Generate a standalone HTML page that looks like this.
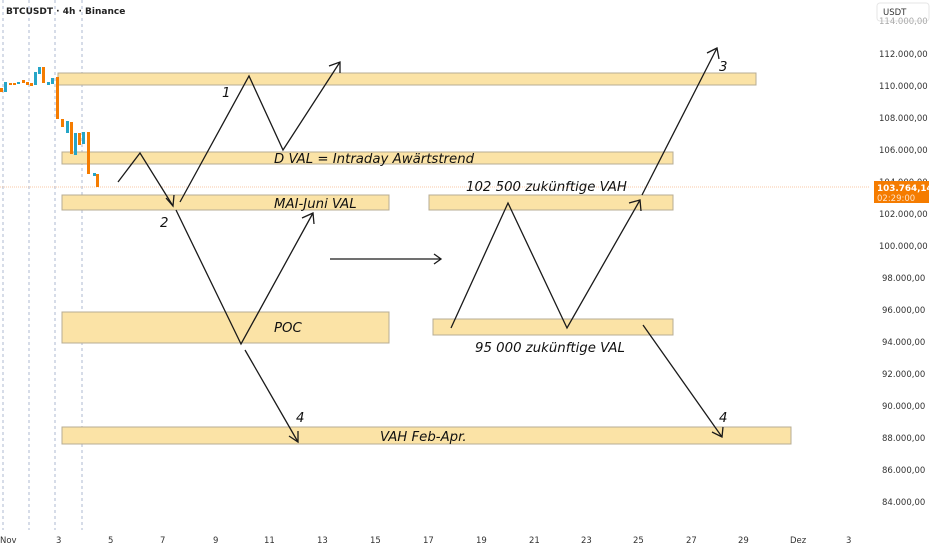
<!DOCTYPE html>
<html><head><meta charset="utf-8"><style>
html,body{margin:0;padding:0;background:#fff;}
svg{display:block;font-family:"DejaVu Sans","Liberation Sans",sans-serif;}
.ax{font-size:8.5px;fill:#333;}
.lb{font-size:13.3px;font-style:italic;fill:#111;}
.bx{fill:#fbe3a6;stroke:#b7ad94;stroke-width:1;}
</style></head><body>
<svg width="932" height="550" viewBox="0 0 932 550">
<rect width="932" height="550" fill="#fff"/>
<g stroke="#9aa7c6" stroke-width="0.8" stroke-dasharray="3,3">
<line x1="3" y1="0" x2="3" y2="530"/><line x1="29" y1="0" x2="29" y2="530"/>
<line x1="55" y1="0" x2="55" y2="530"/><line x1="82" y1="0" x2="82" y2="530"/>
</g>
<line x1="0" y1="187" x2="870" y2="187" stroke="#f7b98a" stroke-width="0.8" stroke-dasharray="1,1"/>
<rect class="bx" x="58" y="73" width="698" height="12"/>
<rect class="bx" x="62" y="152" width="611" height="12"/>
<rect class="bx" x="62" y="195" width="327" height="15"/>
<rect class="bx" x="429" y="195" width="244" height="15"/>
<rect class="bx" x="62" y="312" width="327" height="31"/>
<rect class="bx" x="433" y="319" width="240" height="16"/>
<rect class="bx" x="62" y="427" width="729" height="17"/>
<g stroke-width="1">
<rect x="0" y="88" width="3" height="4" fill="#f57c00"/>
<rect x="4" y="82" width="3" height="10" fill="#26a5c7"/>
<rect x="9" y="83" width="3" height="2" fill="#f57c00"/>
<rect x="13" y="83" width="3" height="2" fill="#f57c00"/>
<rect x="17" y="82" width="3" height="2" fill="#26a5c7"/>
<rect x="22" y="80" width="3" height="3" fill="#f57c00"/>
<rect x="26" y="82" width="3" height="3" fill="#f57c00"/>
<rect x="30" y="83" width="3" height="3" fill="#f57c00"/>
<rect x="34" y="72" width="3" height="13" fill="#26a5c7"/>
<rect x="38" y="67" width="3" height="7" fill="#26a5c7"/>
<rect x="42" y="67" width="3" height="16" fill="#f57c00"/>
<rect x="47" y="82" width="3" height="3" fill="#26a5c7"/>
<rect x="51" y="78" width="3" height="6" fill="#26a5c7"/>
<rect x="56" y="77" width="3" height="42" fill="#f57c00"/>
<rect x="61" y="119" width="3" height="8" fill="#f57c00"/>
<rect x="66" y="121" width="3" height="12" fill="#26a5c7"/>
<rect x="70" y="122" width="3" height="32" fill="#f57c00"/>
<rect x="74" y="133" width="3" height="22" fill="#26a5c7"/>
<rect x="78" y="133" width="3" height="12" fill="#f57c00"/>
<rect x="82" y="132" width="3" height="12" fill="#26a5c7"/>
<rect x="87" y="132" width="3" height="42" fill="#f57c00"/>
<rect x="93" y="173" width="3" height="3" fill="#26a5c7"/>
<rect x="96" y="174" width="3" height="13" fill="#f57c00"/>
</g>
<g fill="none" stroke="#1a1a1a" stroke-width="1.3" stroke-linejoin="miter">
<polyline points="118,182 140,153 173,206"/>
<polyline points="166,198 173,206 174,195"/>
<polyline points="180,202 249,76 283,150 340,62"/>
<polyline points="329,66 340,62 340,73"/>
<polyline points="176,210 241,344 313,213"/>
<polyline points="302,218 313,213 314,224"/>
<polyline points="245,350 298,442"/>
<polyline points="289,436 298,442 298,431"/>
<line x1="330" y1="259" x2="441" y2="259"/>
<polyline points="434,254 441,259 434,264"/>
<polyline points="451,328 508,203 567,328 640,200"/>
<polyline points="629,203 640,200 641,211"/>
<polyline points="642,195 717,48"/>
<polyline points="707,53 717,48 719,59"/>
<polyline points="643,325 722,437"/>
<polyline points="712,432 722,437 723,427"/>
</g>
<text class="lb" x="222" y="97">1</text>
<text class="lb" x="160" y="227">2</text>
<text class="lb" x="719" y="71">3</text>
<text class="lb" x="296" y="422">4</text>
<text class="lb" x="719" y="422">4</text>
<text class="lb" x="274" y="163">D VAL = Intraday Awärtstrend</text>
<text class="lb" x="274" y="208">MAI-Juni VAL</text>
<text class="lb" x="466" y="191">102 500 zukünftige VAH</text>
<text class="lb" x="274" y="332">POC</text>
<text class="lb" x="475" y="352">95 000 zukünftige VAL</text>
<text class="lb" x="380" y="441">VAH Feb-Apr.</text>
<text x="6" y="14" font-size="9" font-weight="bold" fill="#222">BTCUSDT · 4h · Binance</text>
<rect x="877" y="3" width="52" height="18" rx="3" fill="#fff" stroke="#e6e6e6"/>
<text class="ax" x="883" y="15">USDT</text>
<g class="ax">
<text x="879" y="24" fill="#aaa">114.000,00</text>
<text x="879" y="57">112.000,00</text>
<text x="879" y="89">110.000,00</text>
<text x="879" y="121">108.000,00</text>
<text x="879" y="153">106.000,00</text>
<text x="879" y="185">104.000,00</text>
<text x="879" y="217">102.000,00</text>
<text x="879" y="249">100.000,00</text>
<text x="882" y="281">98.000,00</text>
<text x="882" y="313">96.000,00</text>
<text x="882" y="345">94.000,00</text>
<text x="882" y="377">92.000,00</text>
<text x="882" y="409">90.000,00</text>
<text x="882" y="441">88.000,00</text>
<text x="882" y="473">86.000,00</text>
<text x="882" y="505">84.000,00</text>
</g>
<rect x="874" y="181" width="55" height="22" fill="#f57c00"/>
<text x="877" y="191" font-size="8.8" font-weight="bold" fill="#fff">103.764,14</text>
<text x="877" y="201" font-size="8.5" fill="#fde2c8">02:29:00</text>
<g class="ax">
<text x="0" y="543">Nov</text><text x="56" y="543">3</text><text x="108" y="543">5</text>
<text x="160" y="543">7</text><text x="213" y="543">9</text><text x="264" y="543">11</text>
<text x="317" y="543">13</text><text x="370" y="543">15</text><text x="423" y="543">17</text>
<text x="476" y="543">19</text><text x="529" y="543">21</text><text x="581" y="543">23</text>
<text x="633" y="543">25</text><text x="686" y="543">27</text><text x="738" y="543">29</text>
<text x="790" y="543">Dez</text><text x="846" y="543">3</text>
</g>
</svg>
</body></html>
